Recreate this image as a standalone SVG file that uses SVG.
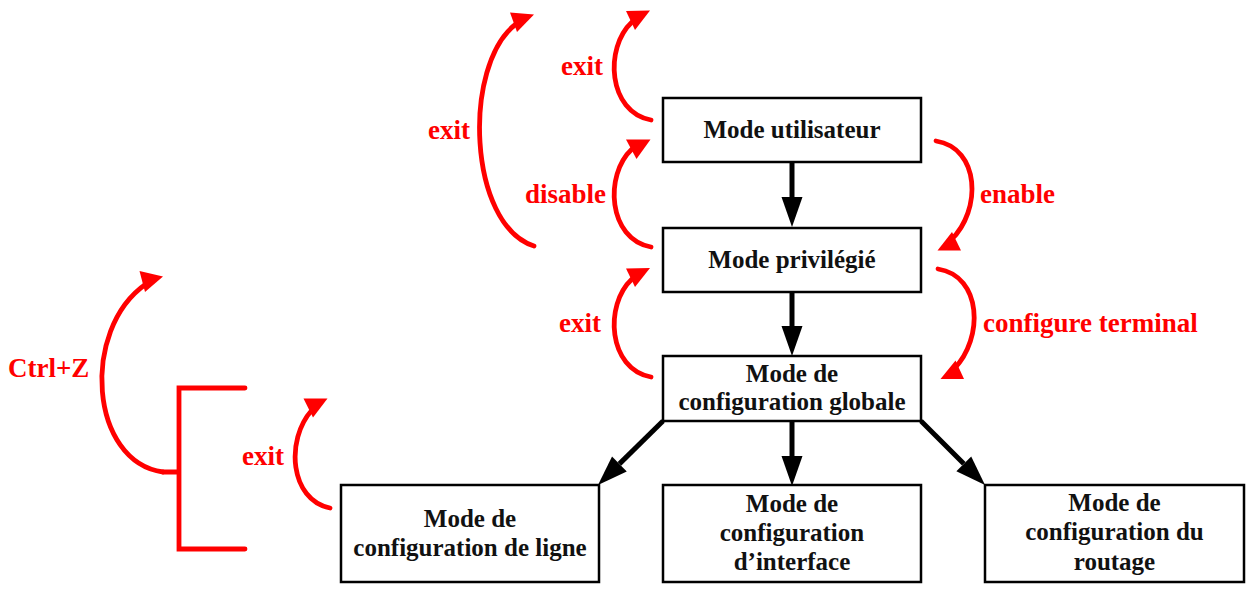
<svg xmlns="http://www.w3.org/2000/svg" width="1254" height="593" viewBox="0 0 1254 593">
<style>
.box{fill:#fff;stroke:#000;stroke-width:2.5}
.bt{font-family:"Liberation Serif","Times New Roman",serif;font-weight:bold;font-size:25px;fill:#111;text-anchor:middle}
.rt{font-family:"Liberation Serif","Times New Roman",serif;font-weight:bold;font-size:27px;fill:#f00}
.blk{fill:none;stroke:#000;stroke-width:5}
.red{fill:none;stroke:#f00;stroke-width:4.8;stroke-linecap:round}
.rh{fill:#f00}
</style>
<defs>
<marker id="ah" markerUnits="userSpaceOnUse" markerWidth="32" markerHeight="24" refX="0" refY="11" orient="auto" overflow="visible">
<path d="M0,0.5 L30,11 L0,21.5 z" fill="#000"/>
</marker>
</defs>
<rect width="1254" height="593" fill="#fff"/>
<g id="connectors">
<path class="blk" d="M792,162 V197" marker-end="url(#ah)"/>
<path class="blk" d="M792,292 V326" marker-end="url(#ah)"/>
<path class="blk" d="M792,421 V456" marker-end="url(#ah)"/>
<path class="blk" d="M663,421 L619.4,463.9" marker-end="url(#ah)"/>
<path class="blk" d="M921,421 L963.8,463.8" marker-end="url(#ah)"/>
<path class="red" d="M651,120 C608,112 604,48 632,22"/>
<polygon class="rh" points="626,11 650,10.5 635,30"/>
<path class="red" d="M651,247 C608,239 604,175 632,149"/>
<polygon class="rh" points="626,139.5 650.5,139.5 636.5,159"/>
<path class="red" d="M651,377 C608,369 604,305 632,279"/>
<polygon class="rh" points="626,268.5 650,268 635,287"/>
<path class="red" d="M534,246 C468,225 462,65 516,24"/>
<polygon class="rh" points="510,12.5 534,14.5 517,32"/>
<path class="red" d="M936,141 C980,148 982,210 951,240"/>
<polygon class="rh" points="937.5,250.5 961,250.5 952,232"/>
<path class="red" d="M938,269 C982,276 984,338 954,369"/>
<polygon class="rh" points="940.5,379 964,379 955.5,360.5"/>
<path class="red" d="M163,472 C90,462 80,330 146,284"/>
<polygon class="rh" points="139.5,271 163,276.5 145,292"/>
<path class="red" d="M245,388 H179 V549 H245 M163,472 H179"/>
<path class="red" d="M330,508 C290,500 285,440 312,410"/>
<polygon class="rh" points="303.5,398.5 327.5,398.5 313,417.5"/>
</g>
<g id="n-utilisateur"><rect class="box" x="663" y="98" width="258" height="64"/><text class="bt" x="792" y="138">Mode utilisateur</text></g>
<g id="n-privilegie"><rect class="box" x="663" y="228" width="258" height="64"/><text class="bt" x="792" y="268">Mode privilégié</text></g>
<g id="n-globale"><rect class="box" x="663" y="356" width="258" height="65"/><text class="bt" x="792" y="382">Mode de</text><text class="bt" x="792" y="410">configuration globale</text></g>
<g id="n-ligne"><rect class="box" x="341" y="485" width="258" height="97"/><text class="bt" x="470" y="527">Mode de</text><text class="bt" x="470" y="556">configuration de ligne</text></g>
<g id="n-interface"><rect class="box" x="663" y="485" width="258" height="97"/><text class="bt" x="792" y="512">Mode de</text><text class="bt" x="792" y="541">configuration</text><text class="bt" x="792" y="570">d’interface</text></g>
<g id="n-routage"><rect class="box" x="985" y="485" width="259" height="97"/><text class="bt" x="1114.5" y="511">Mode de</text><text class="bt" x="1114.5" y="540">configuration du</text><text class="bt" x="1114.5" y="570">routage</text></g>
<g id="labels">
<text class="rt" x="561" y="75">exit</text>
<text class="rt" x="428" y="139">exit</text>
<text class="rt" x="525" y="203">disable</text>
<text class="rt" x="980" y="203">enable</text>
<text class="rt" x="559" y="332">exit</text>
<text class="rt" x="983" y="332">configure terminal</text>
<text class="rt" x="8" y="377">Ctrl+Z</text>
<text class="rt" x="242" y="465">exit</text>
</g>
</svg>
